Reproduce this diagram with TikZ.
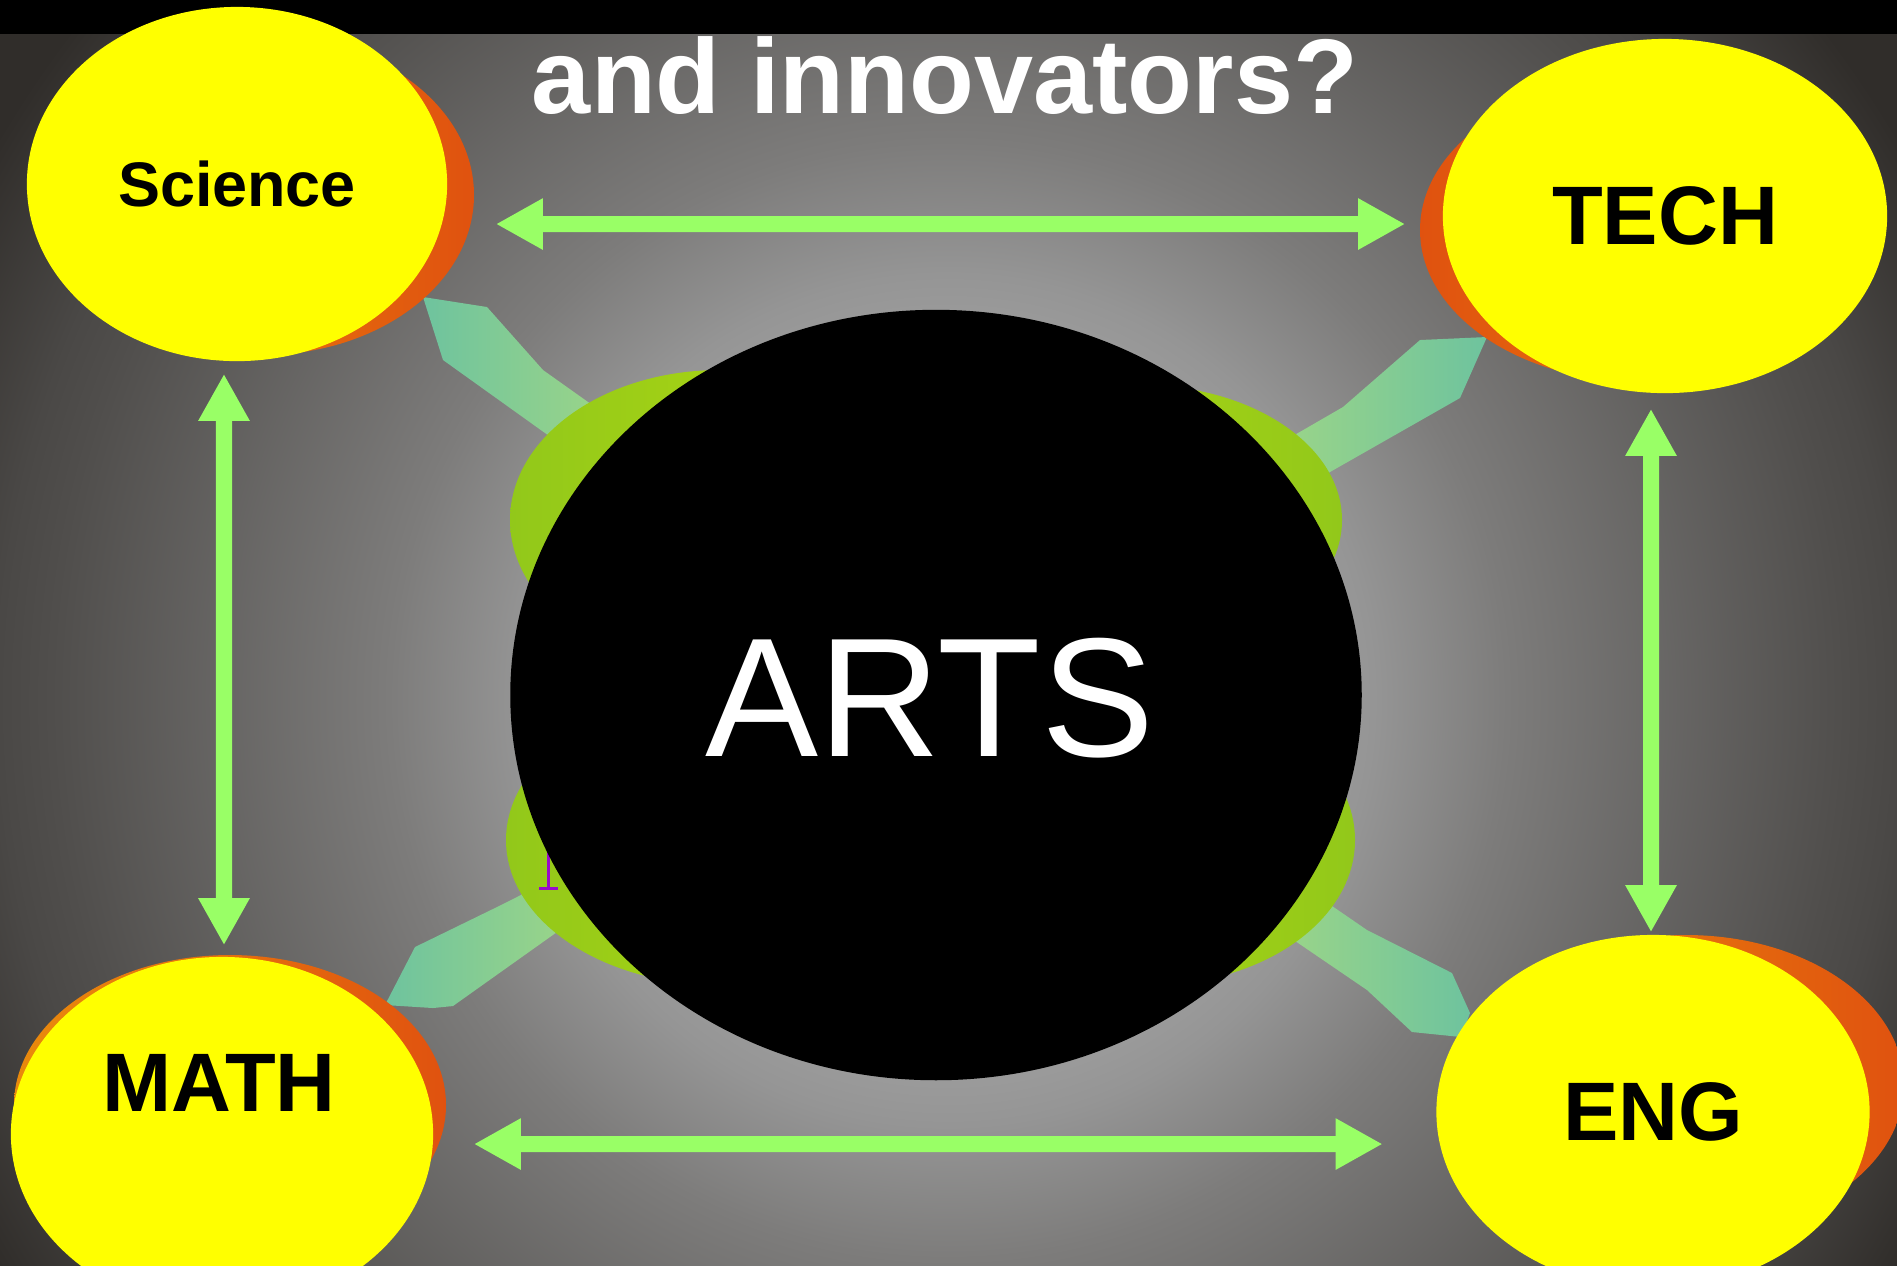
\documentclass[tikz,border=0pt]{standalone}
\usepackage{fontspec}
\setmainfont{Liberation Sans}
\usetikzlibrary{shapes.geometric,arrows.meta}
\definecolor{sunyellow}{HTML}{FFFF00}
\definecolor{rimorange}{HTML}{E98A0C}
\definecolor{rimred}{HTML}{E0520F}
\definecolor{limedark}{HTML}{92C81A}
\definecolor{limelight}{HTML}{B6DC0F}
\definecolor{tealdark}{HTML}{6EC39E}
\definecolor{teallight}{HTML}{A0D786}
\definecolor{linkgreen}{HTML}{99FF66}
\definecolor{cursorpurple}{HTML}{9A0ACB}
\definecolor{glowA}{HTML}{BDBDBD}
\definecolor{glowB}{HTML}{B2B2B2}
\definecolor{glowC}{HTML}{A4A4A4}
\definecolor{glowD}{HTML}{959595}
\definecolor{glowE}{HTML}{7D7C7B}
\definecolor{glowF}{HTML}{504E4C}
\definecolor{glowG}{HTML}{4A4846}
\definecolor{glowH}{HTML}{302D2A}
\pgfdeclareradialshading{stagelight}{\pgfpoint{0bp}{0bp}}{color(0bp)=(glowA); color(4bp)=(glowB); color(6.5bp)=(glowC); color(9.25bp)=(glowD); color(12.15bp)=(glowE); color(19.5bp)=(glowF); color(20.65bp)=(glowG); color(24bp)=(glowH); color(50bp)=(glowH)}
\begin{document}
\begin{tikzpicture}[x=0.01cm,y=-0.01cm,
       bubble/.style={ellipse,fill=sunyellow,inner sep=0pt,minimum height=3.54cm,font=\bfseries\fontsize{23.6}{28}\selectfont},
       arrowband/.style={draw=linkgreen,line width=0.16cm,<->,>={Triangle[length=0.47cm,width=0.48cm]}},
       rim/.style={left color=rimorange,right color=rimred},
       rimflip/.style={left color=rimred,right color=rimorange},
       blob/.style={left color=limedark,right color=limelight},
       blobflip/.style={left color=limelight,right color=limedark},
       spoke/.style={left color=tealdark,right color=teallight},
       spokeflip/.style={left color=teallight,right color=tealdark}]
       \useasboundingbox (0,0) rectangle (1897,1265);
       \begin{scope}
       \clip (0,34) rectangle (1897,1265);
       \shade[shading=stagelight] (-202,-450) rectangle (2098,1850);
       \end{scope}
       \node[anchor=base,text=white,font=\bfseries\fontsize{30.2}{36}\selectfont] (heading) at (945,113) {and innovators?};
       \fill[black] (0,0) rectangle (1897,34);
       \shade[spoke] (423,297) -- (487,307) -- (543,370) -- (626,429) -- (586,462) -- (545,433) -- (443,360) -- cycle;
       \shade[spokeflip] (1255,458) -- (1298,433) -- (1343,407) -- (1420,340) -- (1487,337) -- (1460,398) -- (1330,472) -- (1287,497) -- cycle;
       \shade[spoke] (591,908) -- (550,937) -- (453,1006) -- (433,1008) -- (385,1005) -- (415,947) -- (495,908) -- (517,897) -- (561,873) -- cycle;
       \shade[spokeflip] (1294,880) -- (1335,908) -- (1367,930) -- (1452,973) -- (1470,1013) -- (1461,1037) -- (1412,1032) -- (1367,990) -- (1301,945) -- (1260,917) -- cycle;
       \shade[blob] (720,520) ellipse [x radius=210,y radius=150];
       \shade[blobflip] (1140,520) ellipse [x radius=202,y radius=135];
       \shade[blob] (720,840) ellipse [x radius=214,y radius=145];
       \shade[blobflip] (1150,840) ellipse [x radius=205,y radius=145];
       \draw[cursorpurple,line width=0.03cm] (548,852) -- (548,888) (539,888) -- (558,888);
       \node[ellipse,fill=black,inner sep=0pt,minimum width=8.51cm,minimum height=7.7cm] (arts) at (936,695) {};
       \node[text=white,font=\fontsize{48.2}{56}\selectfont] (artstxt) at (930,698) {ARTS};
       \shade[rim] (262,195) ellipse [x radius=212,y radius=160];
       \shade[rimflip] (1642,230) ellipse [x radius=222,y radius=152];
       \shade[rim] (230,1105) ellipse [x radius=216,y radius=150];
       \shade[rim] (1686,1085) ellipse [x radius=218,y radius=150];
       \node[bubble,minimum width=4.2cm,font=\bfseries\fontsize{17.9}{21}\selectfont] (sci) at (237,184) {Science};
       \node[bubble,minimum width=4.44cm] (tech) at (1665,216) {TECH};
       \node[bubble,minimum width=4.22cm] (math) at (222,1134) {};
       \node[font=\bfseries\fontsize{23.6}{28}\selectfont] (mathtxt) at (219,1083) {MATH};
       \node[bubble,minimum width=4.33cm] (eng) at (1653,1112) {ENG};
       \draw[arrowband] ([xshift=0.48cm,yshift=-0.4cm]sci.east) -- ([xshift=-0.37cm,yshift=-0.08cm]tech.west);
       \draw[arrowband] ([xshift=0.4cm,yshift=-0.1cm]math.east) -- ([xshift=-0.53cm,yshift=-0.32cm]eng.west);
       \draw[arrowband] ([xshift=-0.13cm,yshift=-0.12cm]sci.south) -- ([xshift=0.02cm,yshift=0.11cm]math.north);
       \draw[arrowband] ([xshift=-0.14cm,yshift=-0.15cm]tech.south) -- ([xshift=-0.02cm,yshift=0.02cm]eng.north);
\end{tikzpicture}
\end{document}
